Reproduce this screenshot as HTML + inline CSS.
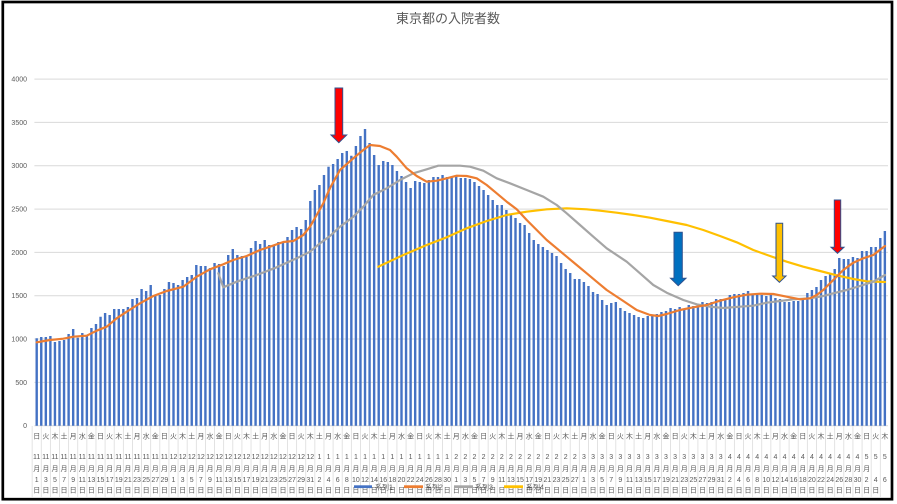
<!DOCTYPE html>
<html><head><meta charset="utf-8"><style>
html,body{margin:0;padding:0;background:#fff;}
body{width:897px;height:504px;overflow:hidden;}
svg{display:block;}
text{font-family:"Liberation Sans","Noto Sans CJK JP",sans-serif;fill:#595959;}
</style></head><body>
<svg width="897" height="504" viewBox="0 0 897 504" xmlns="http://www.w3.org/2000/svg">
<rect x="0" y="0" width="897" height="504" fill="#fff"/>
<!-- title -->
<text x="448" y="23" font-size="13" text-anchor="middle">東京都の入院者数</text>
<!-- gridlines -->
<g stroke="#d9d9d9" stroke-width="1">
<line x1="34.4" y1="79.1" x2="888" y2="79.1"/>
<line x1="34.4" y1="122.4" x2="888" y2="122.4"/>
<line x1="34.4" y1="165.7" x2="888" y2="165.7"/>
<line x1="34.4" y1="209.1" x2="888" y2="209.1"/>
<line x1="34.4" y1="252.4" x2="888" y2="252.4"/>
<line x1="34.4" y1="295.7" x2="888" y2="295.7"/>
<line x1="34.4" y1="339" x2="888" y2="339"/>
<line x1="34.4" y1="382.4" x2="888" y2="382.4"/>
<line x1="34.4" y1="425.7" x2="888" y2="425.7"/>
</g>
<!-- y labels -->
<g font-size="7" text-anchor="end">
<text x="27" y="81.6">4000</text>
<text x="27" y="124.9">3500</text>
<text x="27" y="168.2">3000</text>
<text x="27" y="211.6">2500</text>
<text x="27" y="254.9">2000</text>
<text x="27" y="298.2">1500</text>
<text x="27" y="341.5">1000</text>
<text x="27" y="384.9">500</text>
<text x="27" y="428.2">0</text>
</g>
<!-- x separators -->
<path d="M32.14 426v71m9.12-71v71m9.12-71v71m9.12-71v71m9.12-71v71m9.12-71v71m9.12-71v71m9.12-71v71m9.12-71v71m9.12-71v71m9.12-71v71m9.12-71v71m9.12-71v71m9.12-71v71m9.12-71v71m9.12-71v71m9.12-71v71m9.12-71v71m9.12-71v71m9.12-71v71m9.12-71v71m9.12-71v71m9.12-71v71m9.12-71v71m9.12-71v71m9.12-71v71m9.12-71v71m9.12-71v71m9.12-71v71m9.12-71v71m9.12-71v71m9.12-71v71m9.12-71v71m9.12-71v71m9.12-71v71m9.12-71v71m9.12-71v71m9.12-71v71m9.12-71v71m9.12-71v71m9.12-71v71m9.12-71v71m9.12-71v71m9.12-71v71m9.12-71v71m9.12-71v71m9.12-71v71m9.12-71v71m9.12-71v71m9.12-71v71m9.12-71v71m9.12-71v71m9.12-71v71m9.12-71v71m9.12-71v71m9.12-71v71m9.12-71v71m9.12-71v71m9.12-71v71m9.12-71v71m9.12-71v71m9.12-71v71m9.12-71v71m9.12-71v71m9.12-71v71m9.12-71v71m9.12-71v71m9.12-71v71m9.12-71v71m9.12-71v71m9.12-71v71m9.12-71v71m9.12-71v71m9.12-71v71m9.12-71v71m9.12-71v71m9.12-71v71m9.12-71v71m9.12-71v71m9.12-71v71m9.12-71v71m9.12-71v71m9.12-71v71m9.12-71v71m9.12-71v71m9.12-71v71m9.12-71v71m9.12-71v71m9.12-71v71m9.12-71v71m9.12-71v71m9.12-71v71m9.12-71v71m9.12-71v71" stroke="#dcdcdc" stroke-width="0.8" fill="none"/>
<!-- bars -->
<path fill="#4472C4" d="M35.5 425.7V338.3h2.4V425.7zM40.06 425.7V337h2.4V425.7zM44.62 425.7V337h2.4V425.7zM49.18 425.7V336h2.4V425.7zM53.74 425.7V342h2.4V425.7zM58.3 425.7V341h2.4V425.7zM62.86 425.7V340h2.4V425.7zM67.42 425.7V334h2.4V425.7zM71.98 425.7V329h2.4V425.7zM76.54 425.7V337.7h2.4V425.7zM81.1 425.7V333h2.4V425.7zM85.66 425.7V335.7h2.4V425.7zM90.22 425.7V328h2.4V425.7zM94.78 425.7V324h2.4V425.7zM99.34 425.7V316.7h2.4V425.7zM103.9 425.7V313h2.4V425.7zM108.46 425.7V315h2.4V425.7zM113.02 425.7V309h2.4V425.7zM117.58 425.7V309h2.4V425.7zM122.14 425.7V309h2.4V425.7zM126.7 425.7V307h2.4V425.7zM131.26 425.7V299h2.4V425.7zM135.82 425.7V298h2.4V425.7zM140.38 425.7V289h2.4V425.7zM144.94 425.7V291h2.4V425.7zM149.5 425.7V285h2.4V425.7zM154.06 425.7V295h2.4V425.7zM158.62 425.7V295h2.4V425.7zM163.18 425.7V289h2.4V425.7zM167.74 425.7V282h2.4V425.7zM172.3 425.7V283h2.4V425.7zM176.86 425.7V285h2.4V425.7zM181.42 425.7V280h2.4V425.7zM185.98 425.7V277h2.4V425.7zM190.54 425.7V275h2.4V425.7zM195.1 425.7V265h2.4V425.7zM199.66 425.7V266h2.4V425.7zM204.22 425.7V266h2.4V425.7zM208.78 425.7V268h2.4V425.7zM213.34 425.7V263h2.4V425.7zM217.9 425.7V264h2.4V425.7zM222.46 425.7V266h2.4V425.7zM227.02 425.7V255h2.4V425.7zM231.58 425.7V249h2.4V425.7zM236.14 425.7V255h2.4V425.7zM240.7 425.7V256h2.4V425.7zM245.26 425.7V257h2.4V425.7zM249.82 425.7V248h2.4V425.7zM254.38 425.7V241h2.4V425.7zM258.94 425.7V244h2.4V425.7zM263.5 425.7V240h2.4V425.7zM268.06 425.7V245h2.4V425.7zM272.62 425.7V245h2.4V425.7zM277.18 425.7V242h2.4V425.7zM281.74 425.7V242h2.4V425.7zM286.3 425.7V237h2.4V425.7zM290.86 425.7V230h2.4V425.7zM295.42 425.7V227h2.4V425.7zM299.98 425.7V229h2.4V425.7zM304.54 425.7V220h2.4V425.7zM309.1 425.7V201h2.4V425.7zM313.66 425.7V190h2.4V425.7zM318.22 425.7V185h2.4V425.7zM322.78 425.7V175h2.4V425.7zM327.34 425.7V166.7h2.4V425.7zM331.9 425.7V164h2.4V425.7zM336.46 425.7V159h2.4V425.7zM341.02 425.7V153h2.4V425.7zM345.58 425.7V151h2.4V425.7zM350.14 425.7V155.7h2.4V425.7zM354.7 425.7V146h2.4V425.7zM359.26 425.7V136h2.4V425.7zM363.82 425.7V129h2.4V425.7zM368.38 425.7V143h2.4V425.7zM372.94 425.7V155h2.4V425.7zM377.5 425.7V165h2.4V425.7zM382.06 425.7V161h2.4V425.7zM386.62 425.7V162h2.4V425.7zM391.18 425.7V165h2.4V425.7zM395.74 425.7V171h2.4V425.7zM400.3 425.7V176h2.4V425.7zM404.86 425.7V182h2.4V425.7zM409.42 425.7V188h2.4V425.7zM413.98 425.7V181h2.4V425.7zM418.54 425.7V182h2.4V425.7zM423.1 425.7V183h2.4V425.7zM427.66 425.7V180h2.4V425.7zM432.22 425.7V177h2.4V425.7zM436.78 425.7V177h2.4V425.7zM441.34 425.7V175h2.4V425.7zM445.9 425.7V177h2.4V425.7zM450.46 425.7V177h2.4V425.7zM455.02 425.7V176h2.4V425.7zM459.58 425.7V178h2.4V425.7zM464.14 425.7V178h2.4V425.7zM468.7 425.7V179h2.4V425.7zM473.26 425.7V182h2.4V425.7zM477.82 425.7V186h2.4V425.7zM482.38 425.7V190h2.4V425.7zM486.94 425.7V195h2.4V425.7zM491.5 425.7V200h2.4V425.7zM496.06 425.7V205h2.4V425.7zM500.62 425.7V205h2.4V425.7zM505.18 425.7V210h2.4V425.7zM509.74 425.7V214h2.4V425.7zM514.3 425.7V218h2.4V425.7zM518.86 425.7V223h2.4V425.7zM523.42 425.7V225h2.4V425.7zM527.98 425.7V233h2.4V425.7zM532.54 425.7V240h2.4V425.7zM537.1 425.7V244h2.4V425.7zM541.66 425.7V247h2.4V425.7zM546.22 425.7V250h2.4V425.7zM550.78 425.7V253h2.4V425.7zM555.34 425.7V256h2.4V425.7zM559.9 425.7V263h2.4V425.7zM564.46 425.7V269h2.4V425.7zM569.02 425.7V273h2.4V425.7zM573.58 425.7V279h2.4V425.7zM578.14 425.7V279h2.4V425.7zM582.7 425.7V282h2.4V425.7zM587.26 425.7V286h2.4V425.7zM591.82 425.7V292h2.4V425.7zM596.38 425.7V294h2.4V425.7zM600.94 425.7V300h2.4V425.7zM605.5 425.7V305h2.4V425.7zM610.06 425.7V303h2.4V425.7zM614.62 425.7V302h2.4V425.7zM619.18 425.7V308h2.4V425.7zM623.74 425.7V311h2.4V425.7zM628.3 425.7V313h2.4V425.7zM632.86 425.7V315h2.4V425.7zM637.42 425.7V317h2.4V425.7zM641.98 425.7V318h2.4V425.7zM646.54 425.7V316h2.4V425.7zM651.1 425.7V316h2.4V425.7zM655.66 425.7V314h2.4V425.7zM660.22 425.7V312h2.4V425.7zM664.78 425.7V311h2.4V425.7zM669.34 425.7V308h2.4V425.7zM673.9 425.7V309h2.4V425.7zM678.46 425.7V307h2.4V425.7zM683.02 425.7V309h2.4V425.7zM687.58 425.7V305h2.4V425.7zM692.14 425.7V306h2.4V425.7zM696.7 425.7V304h2.4V425.7zM701.26 425.7V302h2.4V425.7zM705.82 425.7V303h2.4V425.7zM710.38 425.7V302h2.4V425.7zM714.94 425.7V299h2.4V425.7zM719.5 425.7V299h2.4V425.7zM724.06 425.7V299h2.4V425.7zM728.62 425.7V295h2.4V425.7zM733.18 425.7V294h2.4V425.7zM737.74 425.7V294h2.4V425.7zM742.3 425.7V293h2.4V425.7zM746.86 425.7V291h2.4V425.7zM751.42 425.7V295h2.4V425.7zM755.98 425.7V294h2.4V425.7zM760.54 425.7V295h2.4V425.7zM765.1 425.7V296h2.4V425.7zM769.66 425.7V295h2.4V425.7zM774.22 425.7V298h2.4V425.7zM778.78 425.7V299h2.4V425.7zM783.34 425.7V302h2.4V425.7zM787.9 425.7V302h2.4V425.7zM792.46 425.7V301h2.4V425.7zM797.02 425.7V301h2.4V425.7zM801.58 425.7V299h2.4V425.7zM806.14 425.7V293h2.4V425.7zM810.7 425.7V290h2.4V425.7zM815.26 425.7V287h2.4V425.7zM819.82 425.7V280h2.4V425.7zM824.38 425.7V276h2.4V425.7zM828.94 425.7V273h2.4V425.7zM833.5 425.7V269h2.4V425.7zM838.06 425.7V258h2.4V425.7zM842.62 425.7V259h2.4V425.7zM847.18 425.7V259h2.4V425.7zM851.74 425.7V257h2.4V425.7zM856.3 425.7V258h2.4V425.7zM860.86 425.7V251h2.4V425.7zM865.42 425.7V251h2.4V425.7zM869.98 425.7V247h2.4V425.7zM874.54 425.7V247h2.4V425.7zM879.1 425.7V238h2.4V425.7zM883.66 425.7V231h2.4V425.7z"/>
<!-- lines -->
<g fill="none" stroke-width="2.2" stroke-linejoin="round" stroke-linecap="round">
<polyline stroke="#FFC000" points="378.3,266.7 403.3,255 426.7,245 446.7,237.3 466.7,228.3 486.7,221 506.7,215 526.7,211.7 546.7,209.3 566.7,208.3 586.7,209.3 600,210.7 616.7,212.7 633.3,215 650,217.7 666.7,221 686.7,225 703.3,230 720,236 736.7,242.3 753.3,250 770,256 786.7,261.7 803.3,266.7 820,271 836.7,275.3 853.3,279 866.7,281.3 885,282"/>
<polyline stroke="#A5A5A5" points="218.3,273.3 223.3,287.3 236.7,281.7 256.7,275 276.7,267.3 296.7,258.3 310,251.7 320,243.3 330,236 340,226.7 353.3,216.7 363.3,206.7 373.3,195 386.7,188.3 400,180 413.3,173.3 426.7,169.3 438.3,165.7 460,165.7 470,166.7 483.3,170.7 496.7,178.3 510,183.3 526.7,190 543.3,196.7 556.7,205 566.7,213.3 580,225 593.3,236.7 606.7,248.3 626.7,261.7 640,273.3 653.3,285 666.7,292.7 683.3,300 696.7,304.3 710,306.7 723.3,308 740,306.7 753.3,305.7 766.7,302.7 780,301 793.3,299.3 810,298.3 823.3,296 833.3,293.3 846.7,290 860,286 873.3,281.7 885,275"/>
<polyline stroke="#ED7D31" points="36.7,342.3 50,340 63.3,338.7 73.3,336.7 86.7,335.7 96.7,330.7 106.7,326.7 116.7,318.3 126.7,311.7 140,303.3 153.3,296 166.7,291 183.3,286.7 196.7,276.7 210,269.3 223.3,264.3 233.3,260 246.7,256 260,250 270,246.7 283.3,242 293.3,241 303.3,235 310,226.7 316.7,215 323.3,203.3 330,188 340,170 353.3,158.3 363.3,150 370,145 380,146 390,150 396.7,156.7 406.7,168.3 416.7,176 426.7,181.7 436.7,180.7 446.7,178.3 456.7,175.7 466.7,176 476.7,178.3 486.7,185 496.7,193.3 506.7,201.7 516.7,209.3 526.7,220 536.7,230 546.7,240 556.7,248.3 566.7,256.7 576.7,265 586.7,273.3 596.7,281.7 606.7,290 623.3,301 636.7,310 650,315 658.3,316 666.7,314 680,310 693.3,307.3 706.7,305 720,300.7 733.3,297.3 746.7,294.7 760,293.7 773.3,294 786.7,296.7 800,299.3 810,298.3 816.7,295 823.3,290 833.3,280 843.3,270 853.3,262.7 863.3,258.3 873.3,255 885,246"/>
</g>
<!-- arrows -->
<g stroke="#2F528F" stroke-width="1" stroke-linejoin="miter">
<polygon fill="#FF0000" points="335,88 342.7,88 342.7,135 346.7,135 338.85,142.7 331,135 335,135"/>
<polygon fill="#0070C0" points="674,232.3 682.3,232.3 682.3,278.3 686,278.3 678.2,285.7 670.5,278.3 674,278.3"/>
<polygon fill="#FFC000" points="776,223.3 782.7,223.3 782.7,276 786,276 779.4,282.3 772.7,276 776,276"/>
<polygon fill="#FF0000" points="834.3,200 840.7,200 840.7,247.3 844,247.3 837.5,253.3 831,247.3 834.3,247.3"/>
</g>
<!-- x labels -->
<g font-size="7" text-anchor="middle">
<text y="438.5" x="36.7 45.82 54.94 64.06 73.18 82.3 91.42 100.54 109.66 118.78 127.9 137.02 146.14 155.26 164.38 173.5 182.62 191.74 200.86 209.98 219.1 228.22 237.34 246.46 255.58 264.7 273.82 282.94 292.06 301.18 310.3 319.42 328.54 337.66 346.78 355.9 365.02 374.14 383.26 392.38 401.5 410.62 419.74 428.86 437.98 447.1 456.22 465.34 474.46 483.58 492.7 501.82 510.94 520.06 529.18 538.3 547.42 556.54 565.66 574.78 583.9 593.02 602.14 611.26 620.38 629.5 638.62 647.74 656.86 665.98 675.1 684.22 693.34 702.46 711.58 720.7 729.82 738.94 748.06 757.18 766.3 775.42 784.54 793.66 802.78 811.9 821.02 830.14 839.26 848.38 857.5 866.62 875.74 884.86">日火木土月水金日火木土月水金日火木土月水金日火木土月水金日火木土月水金日火木土月水金日火木土月水金日火木土月水金日火木土月水金日火木土月水金日火木土月水金日火木土月水金日火木土月水金日火木</text>
<text y="470.8" x="36.7 45.82 54.94 64.06 73.18 82.3 91.42 100.54 109.66 118.78 127.9 137.02 146.14 155.26 164.38 173.5 182.62 191.74 200.86 209.98 219.1 228.22 237.34 246.46 255.58 264.7 273.82 282.94 292.06 301.18 310.3 319.42 328.54 337.66 346.78 355.9 365.02 374.14 383.26 392.38 401.5 410.62 419.74 428.86 437.98 447.1 456.22 465.34 474.46 483.58 492.7 501.82 510.94 520.06 529.18 538.3 547.42 556.54 565.66 574.78 583.9 593.02 602.14 611.26 620.38 629.5 638.62 647.74 656.86 665.98 675.1 684.22 693.34 702.46 711.58 720.7 729.82 738.94 748.06 757.18 766.3 775.42 784.54 793.66 802.78 811.9 821.02 830.14 839.26 848.38 857.5 866.62 875.74 884.86">月月月月月月月月月月月月月月月月月月月月月月月月月月月月月月月月月月月月月月月月月月月月月月月月月月月月月月月月月月月月月月月月月月月月月月月月月月月月月月月月月月月月月月月月月月月月</text>
<text y="492.5" x="36.7 45.82 54.94 64.06 73.18 82.3 91.42 100.54 109.66 118.78 127.9 137.02 146.14 155.26 164.38 173.5 182.62 191.74 200.86 209.98 219.1 228.22 237.34 246.46 255.58 264.7 273.82 282.94 292.06 301.18 310.3 319.42 328.54 337.66 346.78 355.9 365.02 374.14 383.26 392.38 401.5 410.62 419.74 428.86 437.98 447.1 456.22 465.34 474.46 483.58 492.7 501.82 510.94 520.06 529.18 538.3 547.42 556.54 565.66 574.78 583.9 593.02 602.14 611.26 620.38 629.5 638.62 647.74 656.86 665.98 675.1 684.22 693.34 702.46 711.58 720.7 729.82 738.94 748.06 757.18 766.3 775.42 784.54 793.66 802.78 811.9 821.02 830.14 839.26 848.38 857.5 866.62 875.74 884.86">日日日日日日日日日日日日日日日日日日日日日日日日日日日日日日日日日日日日日日日日日日日日日日日日日日日日日日日日日日日日日日日日日日日日日日日日日日日日日日日日日日日日日日日日日日日日日</text>
<text y="459.2"><tspan x="36.7">11</tspan><tspan x="45.82">11</tspan><tspan x="54.94">11</tspan><tspan x="64.06">11</tspan><tspan x="73.18">11</tspan><tspan x="82.3">11</tspan><tspan x="91.42">11</tspan><tspan x="100.54">11</tspan><tspan x="109.66">11</tspan><tspan x="118.78">11</tspan><tspan x="127.9">11</tspan><tspan x="137.02">11</tspan><tspan x="146.14">11</tspan><tspan x="155.26">11</tspan><tspan x="164.38">11</tspan><tspan x="173.5">12</tspan><tspan x="182.62">12</tspan><tspan x="191.74">12</tspan><tspan x="200.86">12</tspan><tspan x="209.98">12</tspan><tspan x="219.1">12</tspan><tspan x="228.22">12</tspan><tspan x="237.34">12</tspan><tspan x="246.46">12</tspan><tspan x="255.58">12</tspan><tspan x="264.7">12</tspan><tspan x="273.82">12</tspan><tspan x="282.94">12</tspan><tspan x="292.06">12</tspan><tspan x="301.18">12</tspan><tspan x="310.3">12</tspan><tspan x="319.42">1</tspan><tspan x="328.54">1</tspan><tspan x="337.66">1</tspan><tspan x="346.78">1</tspan><tspan x="355.9">1</tspan><tspan x="365.02">1</tspan><tspan x="374.14">1</tspan><tspan x="383.26">1</tspan><tspan x="392.38">1</tspan><tspan x="401.5">1</tspan><tspan x="410.62">1</tspan><tspan x="419.74">1</tspan><tspan x="428.86">1</tspan><tspan x="437.98">1</tspan><tspan x="447.1">1</tspan><tspan x="456.22">2</tspan><tspan x="465.34">2</tspan><tspan x="474.46">2</tspan><tspan x="483.58">2</tspan><tspan x="492.7">2</tspan><tspan x="501.82">2</tspan><tspan x="510.94">2</tspan><tspan x="520.06">2</tspan><tspan x="529.18">2</tspan><tspan x="538.3">2</tspan><tspan x="547.42">2</tspan><tspan x="556.54">2</tspan><tspan x="565.66">2</tspan><tspan x="574.78">2</tspan><tspan x="583.9">3</tspan><tspan x="593.02">3</tspan><tspan x="602.14">3</tspan><tspan x="611.26">3</tspan><tspan x="620.38">3</tspan><tspan x="629.5">3</tspan><tspan x="638.62">3</tspan><tspan x="647.74">3</tspan><tspan x="656.86">3</tspan><tspan x="665.98">3</tspan><tspan x="675.1">3</tspan><tspan x="684.22">3</tspan><tspan x="693.34">3</tspan><tspan x="702.46">3</tspan><tspan x="711.58">3</tspan><tspan x="720.7">3</tspan><tspan x="729.82">4</tspan><tspan x="738.94">4</tspan><tspan x="748.06">4</tspan><tspan x="757.18">4</tspan><tspan x="766.3">4</tspan><tspan x="775.42">4</tspan><tspan x="784.54">4</tspan><tspan x="793.66">4</tspan><tspan x="802.78">4</tspan><tspan x="811.9">4</tspan><tspan x="821.02">4</tspan><tspan x="830.14">4</tspan><tspan x="839.26">4</tspan><tspan x="848.38">4</tspan><tspan x="857.5">4</tspan><tspan x="866.62">5</tspan><tspan x="875.74">5</tspan><tspan x="884.86">5</tspan></text>
<text y="481.8"><tspan x="36.7">1</tspan><tspan x="45.82">3</tspan><tspan x="54.94">5</tspan><tspan x="64.06">7</tspan><tspan x="73.18">9</tspan><tspan x="82.3">11</tspan><tspan x="91.42">13</tspan><tspan x="100.54">15</tspan><tspan x="109.66">17</tspan><tspan x="118.78">19</tspan><tspan x="127.9">21</tspan><tspan x="137.02">23</tspan><tspan x="146.14">25</tspan><tspan x="155.26">27</tspan><tspan x="164.38">29</tspan><tspan x="173.5">1</tspan><tspan x="182.62">3</tspan><tspan x="191.74">5</tspan><tspan x="200.86">7</tspan><tspan x="209.98">9</tspan><tspan x="219.1">11</tspan><tspan x="228.22">13</tspan><tspan x="237.34">15</tspan><tspan x="246.46">17</tspan><tspan x="255.58">19</tspan><tspan x="264.7">21</tspan><tspan x="273.82">23</tspan><tspan x="282.94">25</tspan><tspan x="292.06">27</tspan><tspan x="301.18">29</tspan><tspan x="310.3">31</tspan><tspan x="319.42">2</tspan><tspan x="328.54">4</tspan><tspan x="337.66">6</tspan><tspan x="346.78">8</tspan><tspan x="355.9">10</tspan><tspan x="365.02">12</tspan><tspan x="374.14">14</tspan><tspan x="383.26">16</tspan><tspan x="392.38">18</tspan><tspan x="401.5">20</tspan><tspan x="410.62">22</tspan><tspan x="419.74">24</tspan><tspan x="428.86">26</tspan><tspan x="437.98">28</tspan><tspan x="447.1">30</tspan><tspan x="456.22">1</tspan><tspan x="465.34">3</tspan><tspan x="474.46">5</tspan><tspan x="483.58">7</tspan><tspan x="492.7">9</tspan><tspan x="501.82">11</tspan><tspan x="510.94">13</tspan><tspan x="520.06">15</tspan><tspan x="529.18">17</tspan><tspan x="538.3">19</tspan><tspan x="547.42">21</tspan><tspan x="556.54">23</tspan><tspan x="565.66">25</tspan><tspan x="574.78">27</tspan><tspan x="583.9">1</tspan><tspan x="593.02">3</tspan><tspan x="602.14">5</tspan><tspan x="611.26">7</tspan><tspan x="620.38">9</tspan><tspan x="629.5">11</tspan><tspan x="638.62">13</tspan><tspan x="647.74">15</tspan><tspan x="656.86">17</tspan><tspan x="665.98">19</tspan><tspan x="675.1">21</tspan><tspan x="684.22">23</tspan><tspan x="693.34">25</tspan><tspan x="702.46">27</tspan><tspan x="711.58">29</tspan><tspan x="720.7">31</tspan><tspan x="729.82">2</tspan><tspan x="738.94">4</tspan><tspan x="748.06">6</tspan><tspan x="757.18">8</tspan><tspan x="766.3">10</tspan><tspan x="775.42">12</tspan><tspan x="784.54">14</tspan><tspan x="793.66">16</tspan><tspan x="802.78">18</tspan><tspan x="811.9">20</tspan><tspan x="821.02">22</tspan><tspan x="830.14">24</tspan><tspan x="839.26">26</tspan><tspan x="848.38">28</tspan><tspan x="857.5">30</tspan><tspan x="866.62">2</tspan><tspan x="875.74">4</tspan><tspan x="884.86">6</tspan></text>
</g>
<!-- legend -->
<rect x="354" y="485.3" width="18" height="2.8" fill="#4472C4"/>
<rect x="404" y="485.3" width="19" height="2.8" fill="#ED7D31"/>
<rect x="454" y="485.3" width="19" height="2.8" fill="#A5A5A5"/>
<rect x="504" y="485.3" width="19" height="2.8" fill="#FFC000"/>
<g font-size="7">
<text x="375" y="489.5">系列1</text>
<text x="425" y="489.5">系列2</text>
<text x="475" y="489.5">系列3</text>
<text x="526" y="489.5">系列4</text>
</g>
<!-- frame -->
<rect x="2.8" y="2" width="889.2" height="497.2" fill="none" stroke="#000" stroke-width="2.7"/>
</svg>
</body></html>
